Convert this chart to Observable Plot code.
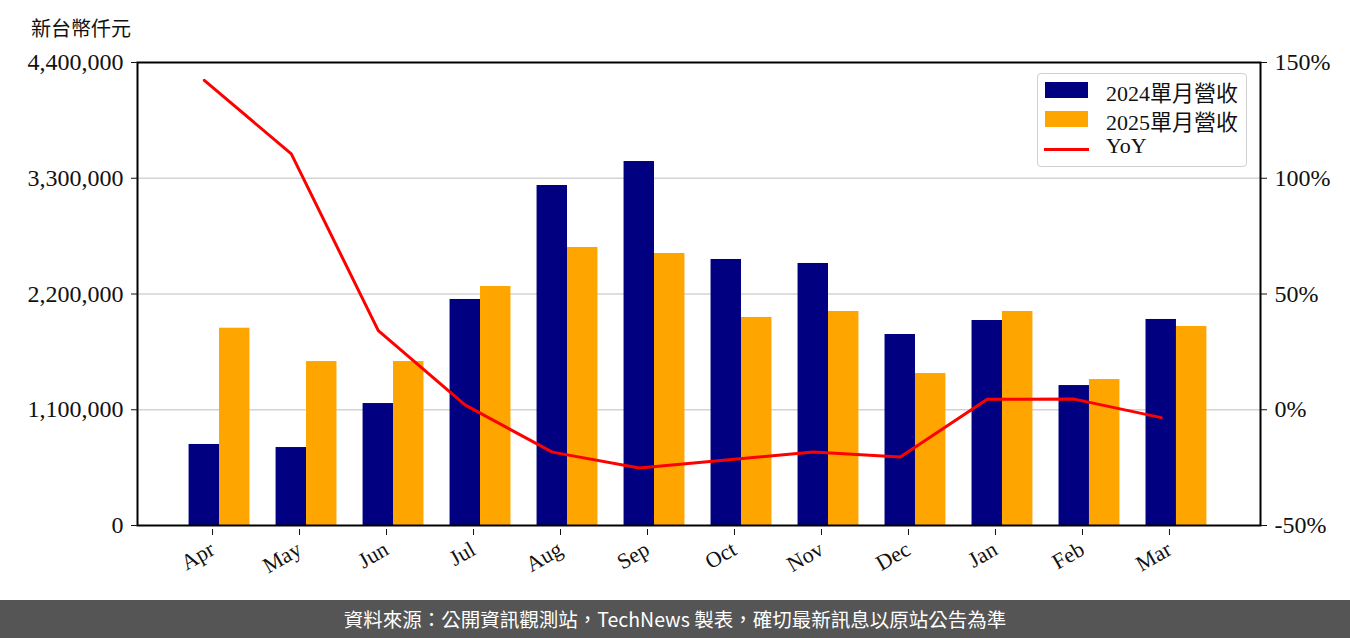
<!DOCTYPE html>
<html>
<head>
<meta charset="utf-8">
<script src="https://cdn.jsdelivr.net/npm/d3@7"></script>
<script src="https://cdn.jsdelivr.net/npm/@observablehq/plot@0.6"></script>
<style>
  body { margin: 0; background: #fff; }
  #wrap { position: relative; width: 1350px; height: 638px; overflow: hidden; font-family: "Liberation Serif", "Noto Sans CJK TC", serif; }
  #unit { position: absolute; left: 31px; top: 13px; font-family: "Noto Sans CJK TC", sans-serif; font-size: 20px; color: #111; }
  #legend { position: absolute; left: 1037px; top: 73px; width: 208px; height: 92px; border: 1.5px solid #d0d0d0; border-radius: 4px; background: rgba(255,255,255,0.85); }
  .row { position: absolute; left: 0; height: 29px; display: flex; align-items: center; }
  .sw { position: absolute; left: 7px; width: 43px; height: 16px; }
  .ln { position: absolute; left: 6px; width: 45px; height: 3px; background: red; }
  .lt { position: absolute; left: 68px; font-size: 22px; white-space: nowrap; color: #111; font-family: "Liberation Serif", "Noto Sans CJK TC", serif; }
  #footer { position: absolute; left: 0; top: 600px; width: 1350px; height: 38px; background: #555555; color: #fff; font-family: "Noto Sans CJK TC", sans-serif; font-size: 19.5px; text-align: center; line-height: 38px; }
</style>
</head>
<body>
<div id="wrap">
  <div id="chart"></div>
  <div id="unit">新台幣仟元</div>
  <div id="legend">
    <div class="row" style="top:2px"><div class="sw" style="background:#000080;top:6px"></div><div class="lt" style="top:-1px">2024單月營收</div></div>
    <div class="row" style="top:31px"><div class="sw" style="background:#FFA500;top:6px"></div><div class="lt" style="top:-1px">2025單月營收</div></div>
    <div class="row" style="top:60px"><div class="ln" style="top:14px"></div><div class="lt" style="top:-1px">YoY</div></div>
  </div>
  <div id="footer">資料來源：公開資訊觀測站，TechNews 製表，確切最新訊息以原站公告為準</div>
</div>
<script>
const months = ["Apr","May","Jun","Jul","Aug","Sep","Oct","Nov","Dec","Jan","Feb","Mar"];
const rev2024 = [770000, 741000, 1159000, 2148000, 3231000, 3459000, 2528000, 2490000, 1815000, 1948000, 1330000, 1958000];
const rev2025 = [1875000, 1558000, 1558000, 2271000, 2642000, 2585000, 1977000, 2034000, 1444000, 2034000, 1387000, 1891000];
const yoy = [142.3, 110.5, 34.2, 2.0, -18.3, -25.2, -21.7, -18.3, -20.4, 4.5, 4.6, -3.4];
const leftTicks = [0, 1100000, 2200000, 3300000, 4400000];
const rightTicks = [-50, 0, 50, 100, 150];

const yMax = 4400000;
const toLeft = p => (p + 50) / 200 * yMax;
const fromLeft = v => Math.round(v / yMax * 200 - 50);
const w = 0.35;

const bars24 = rev2024.map((v, i) => ({i, v}));
const bars25 = rev2025.map((v, i) => ({i, v}));
const yoyRows = yoy.map((p, i) => ({i, p}));

const chart = Plot.plot({
  width: 1350,
  height: 600,
  marginTop: 62,
  marginBottom: 75,
  marginLeft: 137,
  marginRight: 90,
  style: {fontFamily: "'Liberation Serif', 'Noto Sans CJK TC', serif", fontSize: "24px", color: "#111", background: "transparent"},
  x: {type: "linear", domain: [-0.943, 11.966]},
  y: {domain: [0, yMax]},
  marks: [
    Plot.gridY([1100000, 2200000, 3300000], {stroke: "#d3d3d3", strokeOpacity: 1, strokeWidth: 1.5}),
    Plot.rectY(bars24, {x1: d => d.i - w, x2: d => d.i, y: "v", fill: "#000080", inset: 0}),
    Plot.rectY(bars25, {x1: d => d.i, x2: d => d.i + w, y: "v", fill: "#FFA500", inset: 0}),
    Plot.lineY(yoyRows, {x: d => d.i - w / 2, y: d => toLeft(d.p), stroke: "#ff0000", strokeWidth: 3}),
    Plot.frame({stroke: "#000", strokeWidth: 2}),
    Plot.axisY(leftTicks, {anchor: "left", tickFormat: d3.format(","), tickSize: 6, tickPadding: 8, label: null, fontSize: 24}),
    Plot.axisY(rightTicks.map(toLeft), {anchor: "right", tickFormat: v => fromLeft(v) + "%", tickSize: 6, tickPadding: 8, label: null, fontSize: 24}),
    Plot.axisX(d3.range(12), {tickFormat: i => months[i], tickRotate: -30, tickSize: 6, tickPadding: 12, label: null, fontSize: 22, dx: -7, dy: 4})
  ]
});
document.getElementById("chart").appendChild(chart);
</script>
</body>
</html>
